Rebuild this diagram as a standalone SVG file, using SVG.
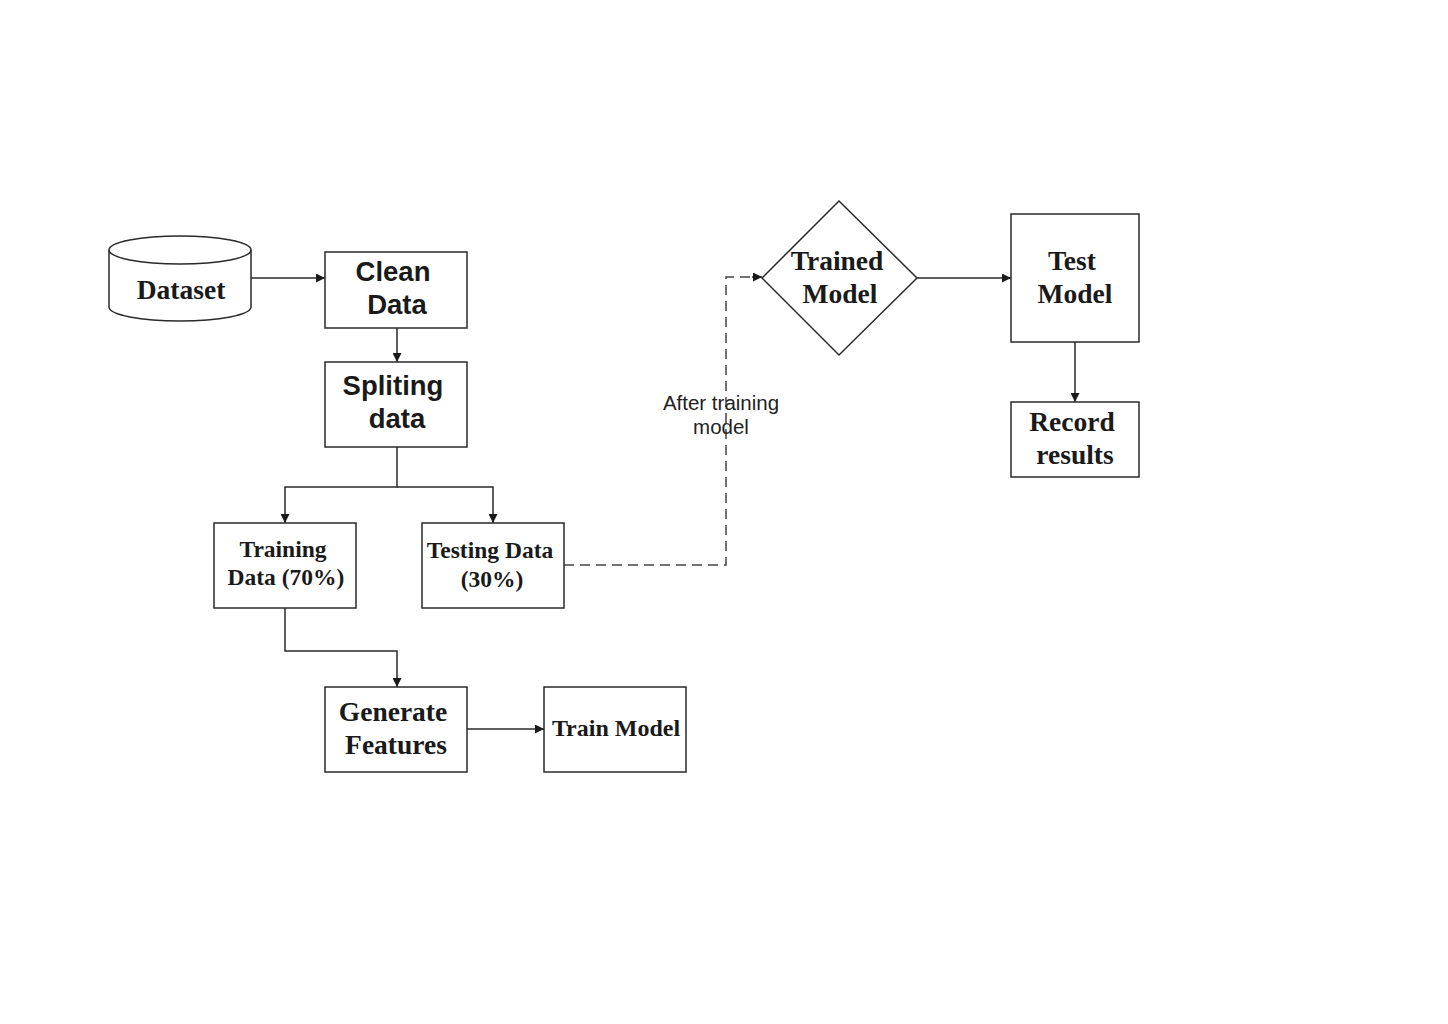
<svg xmlns="http://www.w3.org/2000/svg" width="1448" height="1024" viewBox="0 0 1448 1024">
<style>
.box{fill:#fff;stroke:#2a2a2a;stroke-width:1.5}
.ln{fill:none;stroke:#2a2a2a;stroke-width:1.5}
.dash{fill:none;stroke:#444;stroke-width:1.5;stroke-dasharray:10 6}
.sf{font-family:"Liberation Serif","Times New Roman",serif;font-weight:bold;fill:#1a1a1a;text-anchor:middle}
.ss{font-family:"Liberation Sans",Arial,sans-serif;font-weight:bold;fill:#1a1a1a;text-anchor:middle}
.lbl{font-family:"Liberation Sans",Arial,sans-serif;fill:#222;text-anchor:middle;font-size:20.5px}
</style>
<defs>
<marker id="ah" viewBox="0 0 10 10" refX="10" refY="5" markerWidth="9" markerHeight="9" markerUnits="userSpaceOnUse" orient="auto"><path d="M0,0L10,5L0,10z" fill="#1a1a1a"/></marker>
</defs>
<rect width="1448" height="1024" fill="#fff"/>
<g id="connectors">
<line class="ln" x1="251" y1="278" x2="325" y2="278" marker-end="url(#ah)"/>
<line class="ln" x1="397" y1="328" x2="397" y2="362" marker-end="url(#ah)"/>
<polyline class="ln" points="397,447 397,487 285,487 285,523" marker-end="url(#ah)"/>
<polyline class="ln" points="397,487 493,487 493,523" marker-end="url(#ah)"/>
<polyline class="ln" points="285,608 285,651 397,651 397,687" marker-end="url(#ah)"/>
<line class="ln" x1="467" y1="729" x2="544" y2="729" marker-end="url(#ah)"/>
<polyline class="dash" points="564,565 726,565 726,277 752,277"/>
<line class="ln" x1="752" y1="277" x2="762" y2="277" marker-end="url(#ah)"/>
<line class="ln" x1="917" y1="278" x2="1011" y2="278" marker-end="url(#ah)"/>
<line class="ln" x1="1075" y1="342" x2="1075" y2="402" marker-end="url(#ah)"/>
<text class="lbl" x="721" y="410">After training</text>
<text class="lbl" x="721" y="434">model</text>
</g>
<g id="dataset">
<path class="box" d="M109,250 L109,307 A71,14 0 0 0 251,307 L251,250"/>
<ellipse class="box" cx="180" cy="250" rx="71" ry="14"/>
<text class="sf" x="181" y="299" font-size="27.5">Dataset</text>
</g>
<g id="clean">
<rect class="box" x="325" y="252" width="142" height="76"/>
<text class="ss" x="393" y="281" font-size="27.5">Clean</text>
<text class="ss" x="397" y="314" font-size="27.5">Data</text>
</g>
<g id="split">
<rect class="box" x="325" y="362" width="142" height="85"/>
<text class="ss" x="393" y="395" font-size="27.5">Spliting</text>
<text class="ss" x="397" y="428" font-size="27.5">data</text>
</g>
<g id="training">
<rect class="box" x="214" y="523" width="142" height="85"/>
<text class="sf" x="283" y="557" font-size="23.5">Training</text>
<text class="sf" x="286" y="585" font-size="23.5">Data (70%)</text>
</g>
<g id="testing">
<rect class="box" x="422" y="523" width="142" height="85"/>
<text class="sf" x="490" y="558" font-size="23.5">Testing Data</text>
<text class="sf" x="492" y="587" font-size="23.5">(30%)</text>
</g>
<g id="generate">
<rect class="box" x="325" y="687" width="142" height="85"/>
<text class="sf" x="393" y="721" font-size="27.5">Generate</text>
<text class="sf" x="396" y="754" font-size="27.5">Features</text>
</g>
<g id="train">
<rect class="box" x="544" y="687" width="142" height="85"/>
<text class="sf" x="616" y="736" font-size="24">Train Model</text>
</g>
<g id="trained">
<polygon class="box" points="839,201 917,278 839,355 762,278"/>
<text class="sf" x="837" y="270" font-size="27.5">Trained</text>
<text class="sf" x="840" y="303" font-size="27.5">Model</text>
</g>
<g id="test">
<rect class="box" x="1011" y="214" width="128" height="128"/>
<text class="sf" x="1072" y="270" font-size="27.5">Test</text>
<text class="sf" x="1075" y="303" font-size="27.5">Model</text>
</g>
<g id="record">
<rect class="box" x="1011" y="402" width="128" height="75"/>
<text class="sf" x="1072" y="431" font-size="27.5">Record</text>
<text class="sf" x="1075" y="464" font-size="27.5">results</text>
</g>
</svg>
